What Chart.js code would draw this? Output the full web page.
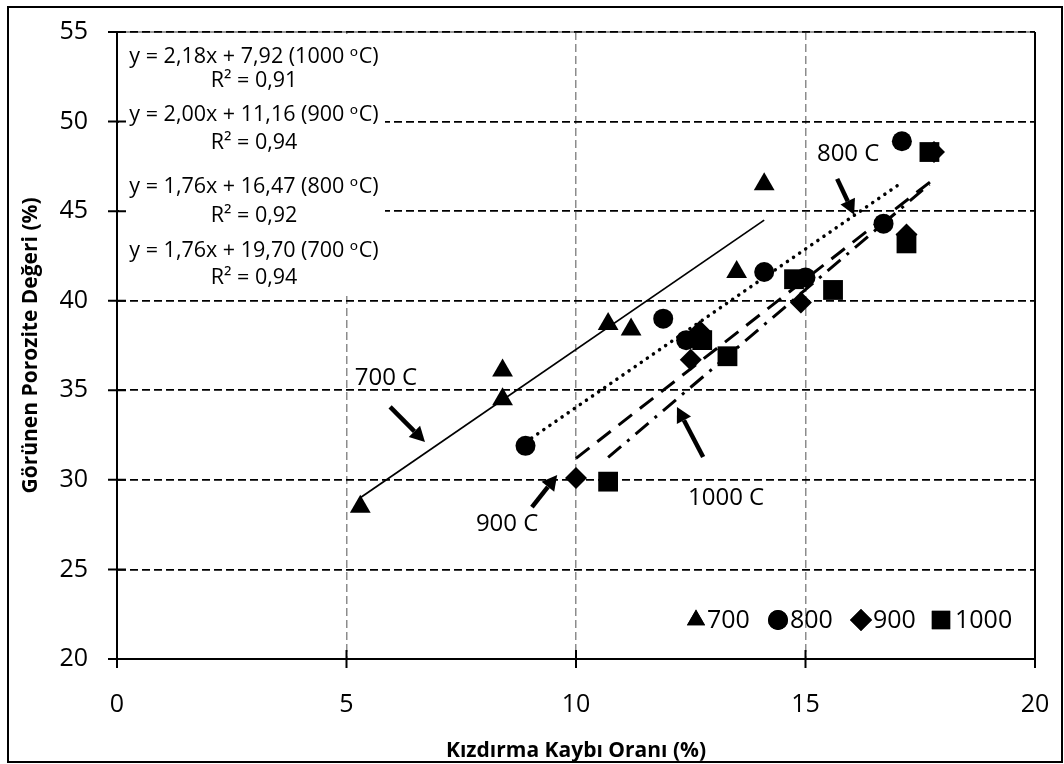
<!DOCTYPE html>
<html>
<head>
<meta charset="utf-8">
<script src="https://cdn.jsdelivr.net/npm/chart.js@4.4.1/dist/chart.umd.min.js"></script>
<style>
  html, body { margin: 0; padding: 0; background: #fff; }
  #wrap { position: relative; width: 1064px; height: 764px; }
</style>
</head>
<body>
<div id="wrap"><canvas id="chart" width="1064" height="764"></canvas></div>
<script>
// values: x = Kızdırma Kaybı Oranı (%), y = Görünen Porozite Değeri (%)
const x700 = [5.3, 8.4, 8.4, 10.7, 11.2, 13.5, 14.1]
const y700 = [28.5, 34.5, 36.1, 38.7, 38.4, 41.6, 46.5]
const x800 = [8.9, 11.9, 12.4, 14.1, 15.0, 16.7, 17.1]
const y800 = [31.9, 39.0, 37.8, 41.6, 41.3, 44.3, 48.9]
const x900 = [10.0, 12.5, 12.7, 14.9, 17.2, 17.8]
const y900 = [30.1, 36.7, 38.3, 39.9, 43.7, 48.3]
const x1000 = [10.7, 12.75, 13.3, 14.75, 15.6, 17.2, 17.7]
const y1000 = [29.9, 37.8, 36.9, 41.2, 40.6, 43.2, 48.3]

// trendline end points as drawn
const fitX700 = [5.3, 14.1], fitY700 = [29.0, 44.5]
const fitX800 = [8.9, 17.1], fitY800 = [32.1, 46.6]
const fitX900 = [10.0, 17.8], fitY900 = [31.2, 46.8]
const fitX1000 = [10.7, 17.7], fitY1000 = [31.25, 46.5]

const seriesNames = ["700", "800", "900", "1000"]
const arrowLabels = ["700 C", "800 C", "900 C", "1000 C"]
const equations = [
  ["y = 2,18x + 7,92 (1000 ᵒC)", "R² = 0,91"],
  ["y = 2,00x + 11,16 (900 ᵒC)", "R² = 0,94"],
  ["y = 1,76x + 16,47 (800 ᵒC)", "R² = 0,92"],
  ["y = 1,76x + 19,70 (700 ᵒC)", "R² = 0,94"],
]

const FONT = "'Open Sans', 'DejaVu Sans', sans-serif"
const pts = (xs, ys) => xs.map((x, i) => ({ x: x, y: ys[i] }))

// marker styles, shared by the datasets and the hand drawn legend
const markers = [
  { pointStyle: "triangle", radius: 12 },
  { pointStyle: "circle", radius: 10 },
  { pointStyle: "rectRot", radius: 11 },
  { pointStyle: "rect", radius: 14 },
]

const markerSet = (label, data, m, order) => ({
  type: "scatter",
  label: label,
  data: data,
  showLine: false,
  pointStyle: m.pointStyle,
  pointRadius: m.radius,
  pointHoverRadius: m.radius,
  pointBackgroundColor: "#000",
  pointBorderColor: "#000",
  pointBorderWidth: 0,
  order: order,
})

const fitSet = (data, dash, width, cap) => ({
  type: "line",
  data: data,
  showLine: true,
  fill: false,
  borderColor: "#000",
  borderWidth: width,
  borderDash: dash,
  borderCapStyle: cap,
  pointRadius: 0,
  pointHoverRadius: 0,
  order: 10,
})

// arrows and their captions, in data units
const arrows = [
  { from: [5.95, 34.07], to: [6.71, 32.11], text: [5.86, 35.69] },
  { from: [15.69, 46.8], to: [16.06, 44.8], text: [15.93, 48.19] },
  { from: [9.04, 28.48], to: [9.59, 30.27], text: [8.5, 27.5] },
  { from: [12.77, 31.28], to: [12.2, 34.07], text: [13.27, 29.0] },
]

function drawArrow(ctx, x1, y1, x2, y2) {
  const a = Math.atan2(y2 - y1, x2 - x1)
  const head = 15, half = 8
  const bx = x2 - head * Math.cos(a), by = y2 - head * Math.sin(a)
  ctx.lineWidth = 4.5
  ctx.beginPath()
  ctx.moveTo(x1, y1)
  ctx.lineTo(bx, by)
  ctx.stroke()
  ctx.beginPath()
  ctx.moveTo(x2, y2)
  ctx.lineTo(bx + half * Math.sin(a), by - half * Math.cos(a))
  ctx.lineTo(bx - half * Math.sin(a), by + half * Math.cos(a))
  ctx.closePath()
  ctx.fill()
}

// keep the plot area where the layout padding puts it
const fixBox = (s, key, size) => {
  s[key] = size
  s.paddingTop = 0
  s.paddingBottom = 0
  s.paddingLeft = 0
  s.paddingRight = 0
}

const extras = {
  id: "extras",
  beforeDraw(chart) {
    const { ctx, chartArea: a } = chart
    ctx.save()
    // faint frame of the plot area under the dashed top grid line
    ctx.strokeStyle = "#9a9a9a"
    ctx.lineWidth = 2
    ctx.beginPath()
    ctx.moveTo(a.left, a.top)
    ctx.lineTo(a.right, a.top)
    ctx.stroke()
    ctx.restore()
  },
  beforeDatasetsDraw(chart) {
    const { ctx, chartArea: a } = chart
    ctx.save()
    // white text box with the regression equations
    ctx.fillStyle = "#fff"
    ctx.fillRect(a.left + 2, a.top + 2, 266, 260)
    ctx.fillStyle = "#000"
    ctx.font = "21.5px " + FONT
    ctx.textAlign = "center"
    ctx.textBaseline = "middle"
    const rows = [[57, 81], [115, 143], [187, 216], [251, 278]]
    equations.forEach((eq, i) => {
      ctx.fillText(eq[0], 254, rows[i][0])
      ctx.fillText(eq[1], 254, rows[i][1])
    })
    // solid right edge of the plot area
    ctx.strokeStyle = "#000"
    ctx.lineWidth = 2
    ctx.beginPath()
    ctx.moveTo(a.right, a.top)
    ctx.lineTo(a.right, a.bottom)
    ctx.stroke()
    ctx.restore()
  },
  afterDraw(chart) {
    const { ctx, chartArea: a, scales } = chart
    const xs = scales.x, ys = scales.y
    ctx.save()
    ctx.strokeStyle = "#000"
    ctx.fillStyle = "#000"
    ctx.lineWidth = 2

    // cross tick marks on both axes
    ctx.beginPath()
    ys.ticks.forEach(t => {
      const p = ys.getPixelForValue(t.value)
      ctx.moveTo(a.left - 9, p)
      ctx.lineTo(a.left + 9, p)
    })
    xs.ticks.forEach(t => {
      const p = xs.getPixelForValue(t.value)
      ctx.moveTo(p, a.bottom - 9)
      ctx.lineTo(p, a.bottom + 9)
    })
    ctx.stroke()

    // arrows with captions
    ctx.font = "24px " + FONT
    ctx.textAlign = "center"
    ctx.textBaseline = "middle"
    arrows.forEach((ar, i) => {
      drawArrow(ctx,
        xs.getPixelForValue(ar.from[0]), ys.getPixelForValue(ar.from[1]),
        xs.getPixelForValue(ar.to[0]), ys.getPixelForValue(ar.to[1]))
      ctx.fillText(arrowLabels[i], xs.getPixelForValue(ar.text[0]), ys.getPixelForValue(ar.text[1]))
    })

    // legend inside the plot, bottom right
    const ly = a.bottom - 39
    const markX = [-339, -257, -174, -94]
    const textX = [-328, -245, -162, -80]
    const legRadius = [10.5, 10, 11, 13]
    ctx.font = "25px " + FONT
    ctx.textAlign = "left"
    seriesNames.forEach((name, i) => {
      Chart.helpers.drawPoint(ctx, {
        pointStyle: markers[i].pointStyle,
        radius: legRadius[i],
        rotation: 0,
        borderWidth: 0,
      }, a.right + markX[i], ly)
      ctx.fill()
      ctx.fillText(name, a.right + textX[i], ly + 1)
    })

    // outer frame
    ctx.lineWidth = 2
    ctx.strokeRect(8, 7, 1054, 755)
    ctx.restore()
  },
}

new Chart(document.getElementById("chart"), {
  data: {
    datasets: [
      markerSet(seriesNames[3], pts(x1000, y1000), markers[3], 1),
      markerSet(seriesNames[2], pts(x900, y900), markers[2], 2),
      markerSet(seriesNames[1], pts(x800, y800), markers[1], 3),
      markerSet(seriesNames[0], pts(x700, y700), markers[0], 4),
      fitSet(pts(fitX700, fitY700), [], 1.75, "butt"),
      fitSet(pts(fitX800, fitY800), [0.1, 7.3], 3.5, "round"),
      fitSet(pts(fitX900, fitY900), [17, 10], 3, "butt"),
      fitSet(pts(fitX1000, fitY1000), [17, 8, 3, 8], 3, "butt"),
    ],
  },
  options: {
    responsive: false,
    animation: false,
    layout: { padding: { top: 32, right: 29, left: 0, bottom: 0 } },
    plugins: {
      legend: { display: false },
      tooltip: { enabled: false },
    },
    scales: {
      x: {
        type: "linear",
        min: 0,
        max: 20,
        ticks: { stepSize: 5, padding: 31, color: "#000", font: { family: FONT, size: 25 } },
        grid: {
          drawTicks: false,
          lineWidth: 1.5,
          color: c => (c.tick.value === 0 || c.tick.value === 20 ? "transparent" : "#8c8c8c"),
        },
        border: { display: true, color: "#000", width: 2, dash: [8, 4] },
        title: {
          display: true,
          text: "Kızdırma Kaybı Oranı (%)",
          color: "#000",
          font: { family: FONT, size: 21, weight: "bold" },
          padding: { top: 10, bottom: 0 },
        },
        afterFit: s => fixBox(s, "height", 105),
      },
      y: {
        type: "linear",
        min: 20,
        max: 55,
        ticks: { stepSize: 5, padding: 29, color: "#000", font: { family: FONT, size: 25 } },
        grid: {
          drawTicks: false,
          lineWidth: 1.75,
          color: c => (c.tick.value === 20 ? "transparent" : "#000"),
        },
        border: { display: true, color: "#000", width: 2, dash: [8, 4] },
        title: {
          display: true,
          text: "Görünen Porozite Değeri (%)",
          color: "#000",
          font: { family: FONT, size: 21, weight: "bold" },
          padding: { top: 18.4, bottom: 0 },
        },
        afterFit: s => fixBox(s, "width", 117),
      },
    },
  },
  plugins: [extras],
})
</script>
</body>
</html>
